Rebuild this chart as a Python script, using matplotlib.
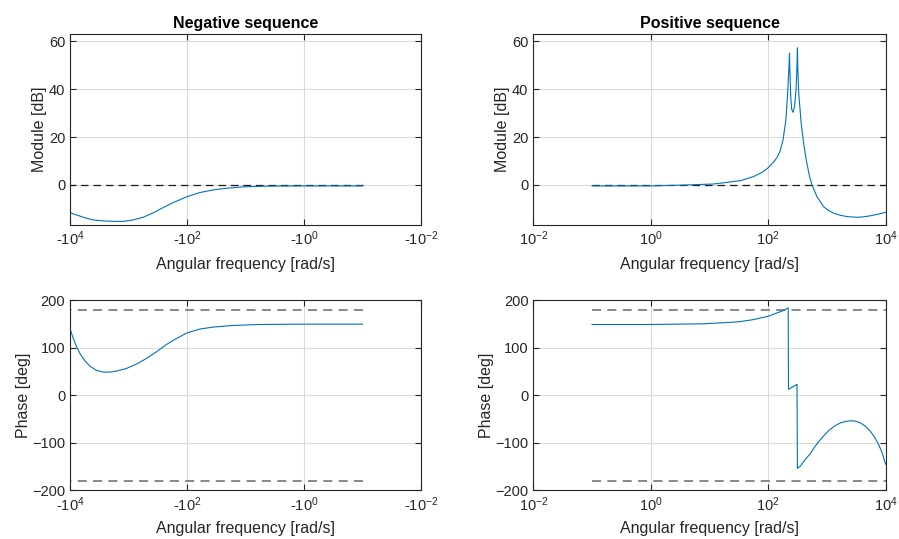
import numpy as np
import matplotlib
matplotlib.use("Agg")
import matplotlib.pyplot as plt

plt.rcParams['font.family'] = ['Liberation Sans', 'DejaVu Sans']
plt.rcParams['mathtext.fontset'] = 'custom'
plt.rcParams['mathtext.rm'] = 'Liberation Sans'
plt.rcParams['mathtext.it'] = 'Liberation Sans:italic'
plt.rcParams['mathtext.default'] = 'regular'

# negative sequence (log10 of |w| in rad/s)
neg_mag_logw = [4.0, 3.915, 3.83, 3.716, 3.603, 3.433, 3.263, 3.092, 2.922, 2.752, 2.582,
                2.412, 2.241, 2.0, 1.785, 1.561, 1.334, 1.05, 0.653, 0.0, -1.0]
neg_mag_db = [-11.6, -12.3, -13.0, -13.9, -14.6, -15.0, -15.2, -15.2, -14.6, -13.5, -11.7,
              -9.5, -7.4, -4.9, -3.2, -2.1, -1.4, -0.8, -0.5, -0.4, -0.4]

neg_ph_logw = [4.0, 3.943, 3.887, 3.83, 3.745, 3.66, 3.546, 3.433, 3.319, 3.206, 3.036, 2.866,
               2.695, 2.525, 2.355, 2.185, 2.0, 1.785, 1.561, 1.22, 0.767, 0.0, -1.0]
neg_ph_deg = [139.6, 118.8, 101.4, 87.5, 72.2, 61.1, 52.1, 48.6, 48.6, 50.7, 56.3, 65.3,
              77.1, 91.0, 106.3, 118.8, 131.0, 138.9, 143.0, 146.5, 148.6, 149.3, 149.3]

# positive sequence
pos_mag_logw = [-1.0, 0.0, 0.62, 1.07, 1.4, 1.53, 1.75, 1.9, 2.0, 2.1, 2.15, 2.2, 2.25, 2.30,
                2.33, 2.355, 2.362, 2.372, 2.385, 2.40, 2.424, 2.45, 2.475, 2.49, 2.497, 2.505,
                2.52, 2.537, 2.56, 2.605, 2.65, 2.707, 2.746, 2.83, 2.944, 3.03, 3.114, 3.22,
                3.34, 3.51, 3.62, 3.73, 3.87, 4.0]
pos_mag_db = [-0.4, -0.4, 0.0, 0.4, 1.4, 1.8, 3.5, 5.3, 7.2, 9.8, 11.5, 14.0, 18.5, 27.0,
              38.0, 50.0, 55.0, 45.0, 36.0, 31.5, 30.3, 33.0, 40.0, 50.0, 57.2, 48.0,
              38.0, 33.0, 26.0, 17.0, 10.0, 3.2, 0.0, -4.9, -9.1, -10.7, -11.8, -12.6,
              -13.2, -13.5, -13.3, -12.9, -12.2, -11.4]

pos_ph_logw = [-1.0, 0.0, 0.9, 1.41, 1.53, 1.755, 2.0, 2.15, 2.25, 2.34, 2.345, 2.49, 2.497,
               2.548, 2.63, 2.72, 2.80, 2.89, 2.975, 3.06, 3.145, 3.23, 3.315, 3.40, 3.485,
               3.57, 3.655, 3.74, 3.81, 3.88, 3.94, 4.0]
pos_ph_deg = [148.6, 148.6, 150, 153.5, 154.8, 159, 165.9, 172.9, 177.5, 183.3, 12.5, 22.9, -153.5,
              -148.7, -135, -122, -107, -93, -81, -71, -63.5, -58, -55, -53.5, -54.5,
              -58, -65, -75.7, -88, -103.5, -121, -145]

phase_limits = [180, -180]

blue = '#0072BD'
edge = '#262626'


def style(ax):
    ax.grid(True, color='#dcdcdc', linewidth=0.8)
    ax.set_axisbelow(True)
    for s in ax.spines.values():
        s.set_color(edge)
        s.set_linewidth(0.8)
    ax.tick_params(which='both', direction='in', top=True, right=True,
                   color=edge, labelcolor=edge, labelsize=10.5, length=4)
    ax.minorticks_off()


fig = plt.figure(figsize=(8.99, 5.39), dpi=100)
ax1 = fig.add_axes([0.0779, 0.5826, 0.3904, 0.3544])
ax2 = fig.add_axes([0.5932, 0.5826, 0.3920, 0.3544])
ax3 = fig.add_axes([0.0779, 0.0900, 0.3904, 0.3534])
ax4 = fig.add_axes([0.5932, 0.0900, 0.3920, 0.3534])

neg_w_m = 10 ** np.array(neg_mag_logw)
neg_w_p = 10 ** np.array(neg_ph_logw)
pos_w_m = 10 ** np.array(pos_mag_logw)
pos_w_p = 10 ** np.array(pos_ph_logw)

# magnitude
for ax, w, m in [(ax1, neg_w_m, neg_mag_db), (ax2, pos_w_m, pos_mag_db)]:
    style(ax)
    ax.plot([w.min(), w.max()], [0, 0], '--', color='#1a1a1a', linewidth=0.9, dashes=(6, 4))
    ax.plot(w, m, color=blue, linewidth=0.8)
    ax.set_xscale('log')
    ax.set_ylim(-16.7, 63)
    ax.set_yticks([0, 20, 40, 60])
    ax.set_ylabel('Module [dB]', fontsize=11.5, color=edge, labelpad=1.5)
    ax.set_xlabel('Angular frequency [rad/s]', fontsize=11.5, color=edge, labelpad=6)

# phase
for ax, w, p in [(ax3, neg_w_p, neg_ph_deg), (ax4, pos_w_p, pos_ph_deg)]:
    style(ax)
    for lim in phase_limits:
        ax.plot([w.min(), w.max()], [lim, lim], '--', color='#7f7f7f', linewidth=1.3, dashes=(5, 3.5))
    ax.plot(w, p, color=blue, linewidth=0.8)
    ax.set_xscale('log')
    ax.set_ylim(-200, 200)
    ax.set_yticks([-200, -100, 0, 100, 200])
    ax.set_ylabel('Phase [deg]', fontsize=11.5, color=edge, labelpad=1.0)
    ax.set_xlabel('Angular frequency [rad/s]', fontsize=11.5, color=edge, labelpad=5)

ticks = [1e4, 1e2, 1e0, 1e-2]
for ax in (ax1, ax3):
    ax.set_xlim(1e4, 1e-2)
    ax.set_xticks(ticks)
    ax.set_xticklabels(['-$10^{4}$', '-$10^{2}$', '-$10^{0}$', '-$10^{-2}$'])
    ax.minorticks_off()
for ax in (ax2, ax4):
    ax.set_xlim(1e-2, 1e4)
    ax.set_xticks(ticks[::-1])
    ax.set_xticklabels(['$10^{-2}$', '$10^{0}$', '$10^{2}$', '$10^{4}$'])
    ax.minorticks_off()

ax1.set_title('Negative sequence', fontsize=11.5, fontweight='bold', color='black', pad=4)
ax2.set_title('Positive sequence', fontsize=11.5, fontweight='bold', color='black', pad=4)

fig.savefig('out.png', dpi=100)
